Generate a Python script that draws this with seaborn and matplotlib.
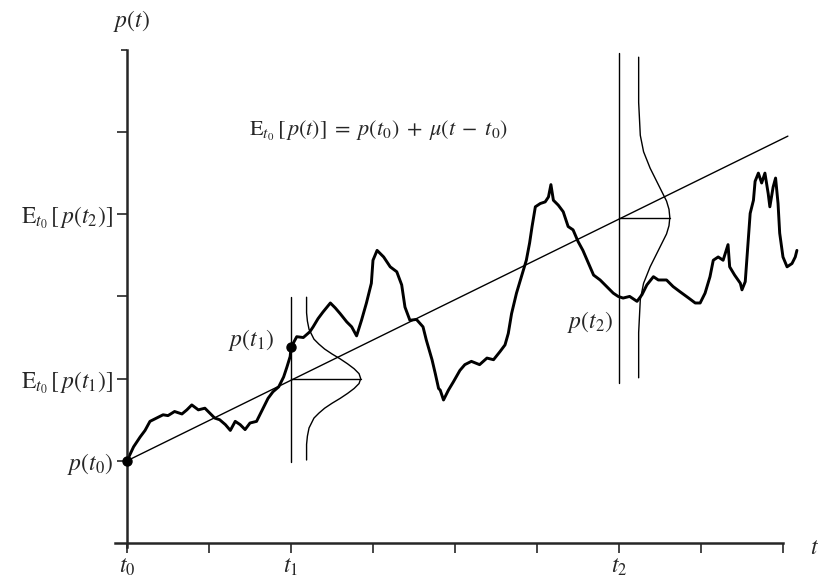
import matplotlib
matplotlib.use("Agg")
import matplotlib.pyplot as plt
import seaborn as sns
import pandas as pd

# sample path p(t) (t and p in tick units)
path_t = [0.00, 0.08, 0.16, 0.22, 0.28, 0.36, 0.44, 0.50, 0.58, 0.67, 0.73, 0.79,
          0.87, 0.95, 1.01, 1.07, 1.13, 1.20, 1.26, 1.32, 1.38, 1.44, 1.50, 1.58,
          1.62, 1.68, 1.72, 1.78, 1.85, 1.91, 1.95, 1.99, 2.00, 2.07, 2.15, 2.23,
          2.27, 2.33, 2.39, 2.48, 2.54, 2.60, 2.68, 2.74, 2.80, 2.86, 2.92, 2.98,
          3.00, 3.05, 3.13, 3.21, 3.29, 3.35, 3.39, 3.45, 3.53, 3.61, 3.65, 3.72,
          3.76, 3.80, 3.82, 3.86, 3.92, 3.98, 4.06, 4.12, 4.20, 4.30, 4.39, 4.47,
          4.55, 4.61, 4.65, 4.69, 4.75, 4.81, 4.87, 4.91, 4.94, 4.98, 5.04, 5.10,
          5.14, 5.17, 5.20, 5.26, 5.32, 5.38, 5.44, 5.50, 5.56, 5.63, 5.69, 5.77,
          5.85, 5.93, 5.99, 6.05, 6.13, 6.22, 6.28, 6.34, 6.42, 6.48, 6.58, 6.66,
          6.74, 6.85, 6.93, 6.99, 7.05, 7.11, 7.15, 7.21, 7.27, 7.33, 7.35, 7.41,
          7.48, 7.50, 7.54, 7.58, 7.60, 7.64, 7.66, 7.70, 7.74, 7.78, 7.82, 7.84,
          7.88, 7.91, 7.94, 7.96, 8.00, 8.05, 8.11, 8.15, 8.17]
path_p = [1.00, 1.17, 1.29, 1.37, 1.48, 1.52, 1.56, 1.55, 1.60, 1.57, 1.62, 1.68,
          1.62, 1.64, 1.58, 1.52, 1.50, 1.44, 1.37, 1.48, 1.44, 1.38, 1.46, 1.48,
          1.56, 1.68, 1.76, 1.84, 1.90, 2.02, 2.14, 2.27, 2.38, 2.51, 2.50, 2.57,
          2.63, 2.73, 2.81, 2.92, 2.86, 2.79, 2.69, 2.63, 2.52, 2.71, 2.92, 3.16,
          3.44, 3.56, 3.48, 3.36, 3.30, 3.14, 2.87, 2.71, 2.72, 2.63, 2.47, 2.23,
          2.06, 1.88, 1.86, 1.74, 1.86, 1.96, 2.10, 2.17, 2.21, 2.17, 2.25, 2.23,
          2.33, 2.41, 2.55, 2.79, 3.04, 3.24, 3.44, 3.65, 3.85, 4.09, 4.13, 4.15,
          4.21, 4.36, 4.17, 4.11, 4.03, 3.85, 3.81, 3.67, 3.56, 3.40, 3.26, 3.20,
          3.12, 3.04, 3.00, 2.98, 3.00, 2.94, 3.02, 3.14, 3.24, 3.20, 3.20, 3.12,
          3.06, 2.98, 2.92, 2.92, 3.04, 3.24, 3.44, 3.48, 3.44, 3.63, 3.36, 3.26,
          3.16, 3.08, 3.18, 3.73, 4.01, 4.17, 4.40, 4.50, 4.38, 4.50, 4.25, 4.09,
          4.33, 4.44, 4.13, 3.77, 3.48, 3.36, 3.40, 3.48, 3.56]

# expected value line E[p(t)]
drift_t = [0.0, 8.06]
drift_p = [1.0, 4.95]

# marked points p(t0), p(t1)
dot_t = [0.0, 2.0]
dot_p = [1.0, 2.38]

# density sketches at t1 and t2
dens_t = [2.0, 6.0]
dens_base = [2.19, 6.24]
dens_mean = [2.0, 3.96]
dens_low = [0.99, 1.95]
dens_high = [2.99, 5.96]
half_d1 = [0.0, 0.06, 0.12, 0.18, 0.24, 0.30, 0.36, 0.42, 0.48, 0.54, 0.60, 0.70, 0.80, 0.99]
half_w1 = [0.66, 0.64, 0.58, 0.50, 0.41, 0.31, 0.22, 0.15, 0.09, 0.06, 0.03, 0.01, 0.0, 0.0]
half_d2 = [0.0, 0.1, 0.2, 0.3, 0.4, 0.5, 0.6, 0.7, 0.8, 0.9, 1.0, 1.2, 1.4, 1.95]
half_w2 = [0.38, 0.37, 0.34, 0.29, 0.24, 0.19, 0.14, 0.10, 0.06, 0.04, 0.02, 0.01, 0.0, 0.0]

x_ticks = [0, 1, 2, 3, 4, 5, 6, 7, 8]
x_labels = [r'$t_0$', '', r'$t_1$', '', '', '', r'$t_2$', '', '']
y_ticks = [1, 2, 3, 4, 5]
y_labels = [r'$p(t_0)$', r'$\mathrm{E}_{t_0}\,[\,p(t_1)]$', '',
            r'$\mathrm{E}_{t_0}\,[\,p(t_2)]$', '']

sns.set_style("ticks")
plt.rcParams['mathtext.fontset'] = 'stix'
plt.rcParams['font.family'] = ['STIXGeneral', 'DejaVu Serif']

fig = plt.figure(figsize=(8.32, 5.81), dpi=100)
ax = fig.add_axes([0, 0, 1, 1])
ax.set_xlim(-1.549, 8.598)
ax.set_ylim(-0.462, 6.606)

path = pd.DataFrame({'t': path_t, 'p': path_p})
sns.lineplot(data=path, x='t', y='p', sort=False, estimator=None,
             color='black', linewidth=2.1, ax=ax)
sns.lineplot(x=drift_t, y=drift_p, color='black', linewidth=1.0, ax=ax)
ax.plot(dot_t, dot_p, 'o', color='black', markersize=6.5, clip_on=False, zorder=5)

for tv, base, mean, lo, hi, hd, hw in zip(dens_t, dens_base, dens_mean, dens_low,
                                           dens_high, [half_d1, half_d2],
                                           [half_w1, half_w2]):
    ax.plot([tv, tv], [lo, hi], color='black', linewidth=1.0)
    d = [-v for v in hd[::-1]] + hd[1:]
    w = hw[::-1] + hw[1:]
    ax.plot([base + v for v in w], [mean + v for v in d], color='black', linewidth=1.0)
    ax.plot([tv, base + hw[0]], [mean, mean], color='black', linewidth=1.0)

# axes drawn as spines through the origin
for side in ['top', 'right']:
    ax.spines[side].set_visible(False)
ax.spines['left'].set_position(('data', 0))
ax.spines['bottom'].set_position(('data', 0))
ax.spines['left'].set_bounds(-0.05, 6.0)
ax.spines['bottom'].set_bounds(-0.15, 8.0)
ax.spines['left'].set_linewidth(1.8)
ax.spines['bottom'].set_linewidth(1.8)

ax.set_xticks(x_ticks)
ax.set_xticklabels(x_labels)
ax.set_yticks(y_ticks)
ax.set_yticklabels(y_labels)
ax.set_yticks([6], minor=True)
ax.tick_params(axis='both', direction='out', length=7, width=1.2,
               labelsize=17, pad=3)
ax.tick_params(axis='y', which='minor', length=4, width=1.2)
ax.set_xlabel('')
ax.set_ylabel('')

ax.text(0.05, 6.35, r'$p(t)$', fontsize=17, ha='center', va='center')
ax.text(8.38, -0.06, r'$t$', fontsize=17, ha='center', va='center')
ax.text(3.07, 5.01, r'$\mathrm{E}_{t_0}\,[\,p(t)]\;=\;p(t_0)\;+\;\mu(t\;-\;t_0)$',
        fontsize=16, ha='center', va='center')
ax.text(1.51, 2.47, r'$p(t_1)$', fontsize=17, ha='center', va='center')
ax.text(5.65, 2.69, r'$p(t_2)$', fontsize=17, ha='center', va='center')

fig.savefig('out.png', dpi=100)
